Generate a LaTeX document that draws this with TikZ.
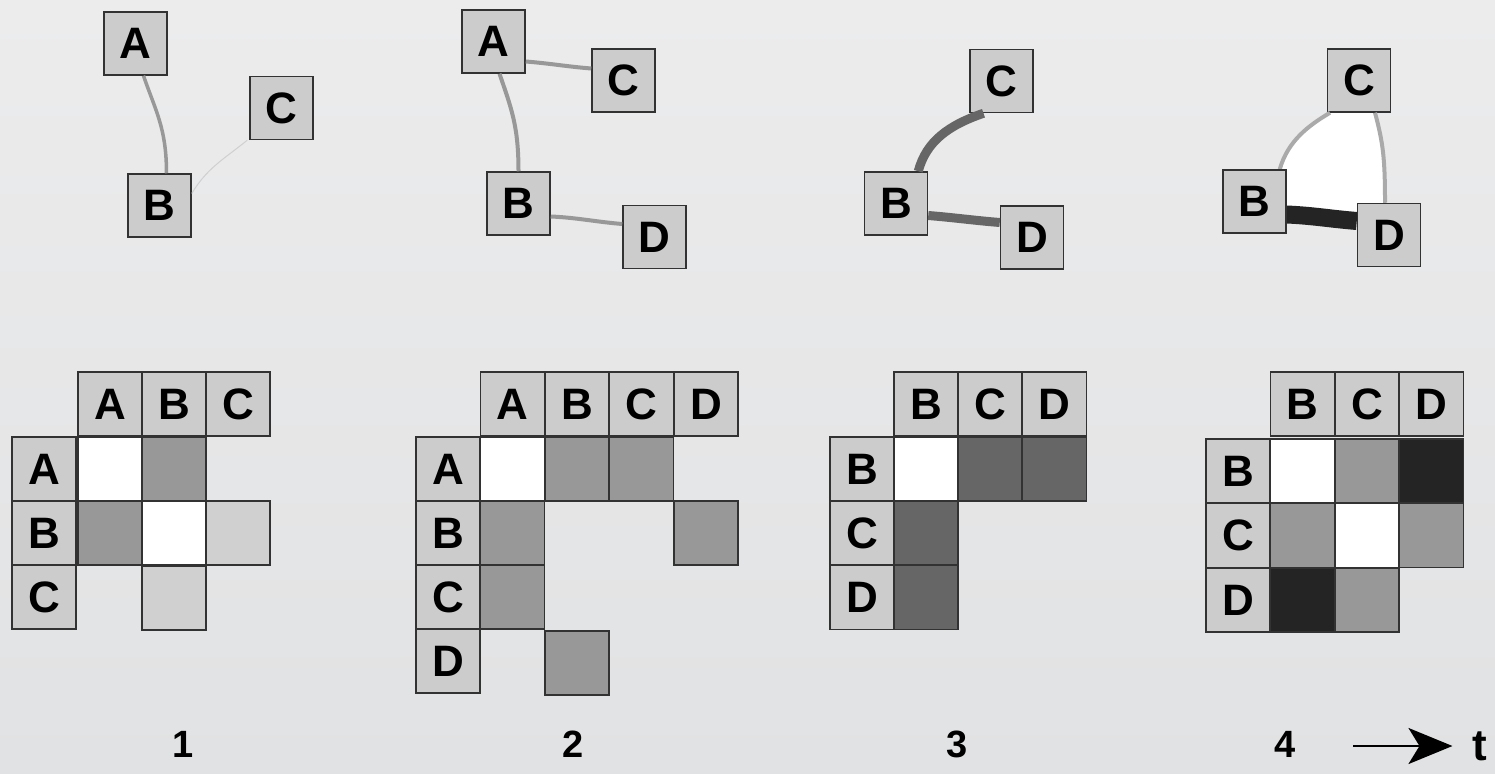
\documentclass[tikz,border=0pt]{standalone}
\usepackage{fontspec}
\setmainfont{Liberation Sans}
\usetikzlibrary{arrows.meta}
\definecolor{bgtop}{RGB}{236,236,237}
\definecolor{bgbot}{RGB}{225,226,227}
\definecolor{boxg}{RGB}{204,204,204}
\definecolor{bd}{RGB}{50,50,50}
\definecolor{lg}{RGB}{208,208,208}
\definecolor{mg}{RGB}{152,152,152}
\definecolor{eg}{RGB}{170,170,170}
\definecolor{dg}{RGB}{102,102,102}
\definecolor{vdg}{RGB}{36,36,36}
\tikzset{
  gbox/.style={draw=bd, fill=boxg, line width=1.5pt, minimum size=63pt, inner sep=0pt, font=\fontsize{44}{44}\selectfont\bfseries},
  cell/.style={draw=bd, line width=1.4pt, minimum size=64pt, inner sep=0pt, font=\fontsize{44}{44}\selectfont\bfseries},
  hdr/.style={cell, fill=boxg},
  wc/.style={cell, fill=white},
  lc/.style={cell, fill=lg},
  mc/.style={cell, fill=mg},
  dc/.style={cell, fill=dg},
  vc/.style={cell, fill=vdg},
  numlbl/.style={font=\fontsize{38}{38}\selectfont\bfseries},
}
\begin{document}
\begin{tikzpicture}[x=1pt,y=-1pt]
\shade[top color=bgtop, bottom color=bgbot] (0,0) rectangle (1495,773);
\useasboundingbox (0,0) rectangle (1495,773);

% ---------- Graph 1 ----------
\node[gbox] (g1A) at (135.5,43.5) {A};
\node[gbox] (g1B) at (159.5,205.5) {B};
\node[gbox] (g1C) at (281.5,108) {C};
\draw[mg, line width=3.5pt] ([xshift=8pt]g1A.south) .. controls +(12,35) and +(0,-45) .. ([xshift=7pt]g1B.north);
\draw[lg, line width=1pt] ([yshift=12pt]g1B.east) .. controls +(15,-25) and +(-25,20) .. ([xshift=-2pt]g1C.south west);

% ---------- Graph 2 ----------
\node[gbox] (g2A) at (493.5,41.5) {A};
\node[gbox] (g2C) at (623.5,80.5) {C};
\node[gbox] (g2B) at (518.5,203.5) {B};
\node[gbox] (g2D) at (654.5,237) {D};
\draw[mg, line width=4pt] ([yshift=-20pt]g2A.east) .. controls +(25,2) and +(-25,-2) .. ([yshift=12pt]g2C.west);
\draw[mg, line width=4pt] ([xshift=6pt]g2A.south) .. controls +(12,35) and +(0,-45) .. (g2B.north);
\draw[mg, line width=4pt] ([yshift=-13pt]g2B.east) .. controls +(25,1) and +(-25,-2) .. ([yshift=13pt]g2D.west);

% ---------- Graph 3 ----------
\node[gbox] (g3C) at (1001.5,81) {C};
\node[gbox] (g3B) at (896,203.5) {B};
\node[gbox] (g3D) at (1032,237.5) {D};
\draw[dg, line width=9pt] ([xshift=-18pt]g3C.south) .. controls +(-35,12) and +(8,-30) .. ([xshift=-10pt]g3B.north east);
\draw[dg, line width=9pt] ([yshift=-12pt]g3B.east) .. controls +(25,2) and +(-25,-2) .. ([yshift=15pt]g3D.west);

% ---------- Graph 4 ----------
\coordinate (g4Bc) at (1254.5,201.5);
\coordinate (g4Cc) at (1359,80.5);
\coordinate (g4Dc) at (1389,235);
\fill[white] (1280,170) .. controls (1288,142) and (1308,125) .. (1330,112)
  -- (1375,112) .. controls (1383,140) and (1386,170) .. (1385,205)
  -- (1357,212) -- (1287,206) -- (1287,170) -- cycle;
\node[gbox] (g4C) at (g4Cc) {C};
\node[gbox] (g4B) at (g4Bc) {B};
\node[gbox] (g4D) at (g4Dc) {D};
\draw[eg, line width=4pt] ([xshift=-29pt]g4C.south) .. controls +(-22,13) and +(8,-28) .. ([xshift=-7pt]g4B.north east);
\draw[eg, line width=4pt] ([xshift=16pt]g4C.south) .. controls +(8,30) and +(0,-45) .. ([xshift=-4pt]g4D.north);
\draw[vdg, line width=18pt] ([yshift=-13pt]g4B.east) .. controls +(25,1) and +(-25,-2) .. ([yshift=14pt]g4D.west);
\node[gbox] at (g4B) {B};
\node[gbox] at (g4D) {D};

% ---------- Matrix 1 ----------
\node[hdr] (m1hA) at (110,404) {A};
\node[hdr] (m1hB) at (174,404) {B};
\node[hdr] (m1hC) at (238,404) {C};
\node[hdr] (m1rA) at (44,469) {A};
\node[hdr] (m1rB) at (44,533) {B};
\node[hdr] (m1rC) at (44,597) {C};
\node[wc] (m1AA) at (110,469) {};
\node[mc] (m1AB) at (174,469) {};
\node[mc] (m1BA) at (110,533) {};
\node[wc] (m1BB) at (174,533) {};
\node[lc] (m1BC) at (238,533) {};
\node[lc] (m1CB) at (174,598) {};

% ---------- Matrix 2 ----------
\node[hdr] (m2hA) at (512.5,404) {A};
\node[hdr] (m2hB) at (577,404) {B};
\node[hdr] (m2hC) at (641.5,404) {C};
\node[hdr] (m2hD) at (706,404) {D};
\node[hdr] (m2rA) at (448,469) {A};
\node[hdr] (m2rB) at (448,533) {B};
\node[hdr] (m2rC) at (448,597) {C};
\node[hdr] (m2rD) at (448,661) {D};
\node[wc] (m2AA) at (512.5,469) {};
\node[mc] (m2AB) at (577,469) {};
\node[mc] (m2AC) at (641.5,469) {};
\node[mc] (m2BA) at (512.5,533) {};
\node[mc] (m2BD) at (706,533) {};
\node[mc] (m2CA) at (512.5,597) {};
\node[mc] (m2DB) at (577,663) {};

% ---------- Matrix 3 ----------
\node[hdr] (m3hB) at (926,404) {B};
\node[hdr] (m3hC) at (990,404) {C};
\node[hdr] (m3hD) at (1054.5,404) {D};
\node[hdr] (m3rB) at (862,469) {B};
\node[hdr] (m3rC) at (862,533) {C};
\node[hdr] (m3rD) at (862,597.5) {D};
\node[wc] (m3BB) at (926,469) {};
\node[dc] (m3BC) at (990,469) {};
\node[dc] (m3BD) at (1054.5,469) {};
\node[dc] (m3CB) at (926,533) {};
\node[dc] (m3DB) at (926,597.5) {};

% ---------- Matrix 4 ----------
\node[hdr] (m4hB) at (1302.5,404) {B};
\node[hdr] (m4hC) at (1367,404) {C};
\node[hdr] (m4hD) at (1431.5,404) {D};
\node[hdr] (m4rB) at (1238,471) {B};
\node[hdr] (m4rC) at (1238,535.5) {C};
\node[hdr] (m4rD) at (1238,600) {D};
\node[wc] (m4BB) at (1302.5,471) {};
\node[mc] (m4BC) at (1367,471) {};
\node[vc] (m4BD) at (1431.5,471) {};
\node[mc] (m4CB) at (1302.5,535.5) {};
\node[wc] (m4CC) at (1367,535.5) {};
\node[mc] (m4CD) at (1431.5,535.5) {};
\node[vc] (m4DB) at (1302.5,600) {};
\node[mc] (m4DC) at (1367,600) {};

% ---------- Time labels ----------
\node[numlbl] (t1) at (183,744) {1};
\node[numlbl] (t2) at (573,744) {2};
\node[numlbl] (t3) at (957,744) {3};
\node[numlbl] (t4) at (1285,744) {4};
\coordinate (arrS) at (1353,746);
\node[font=\fontsize{44}{44}\selectfont\bfseries, inner sep=0pt] (tt) at (1480,746) {t};
\draw[line width=2.5pt, -{Stealth[length=44pt, width=36pt, inset=11pt]}] (arrS) -- ([xshift=-20pt]tt.west |- arrS);
\end{tikzpicture}
\end{document}
